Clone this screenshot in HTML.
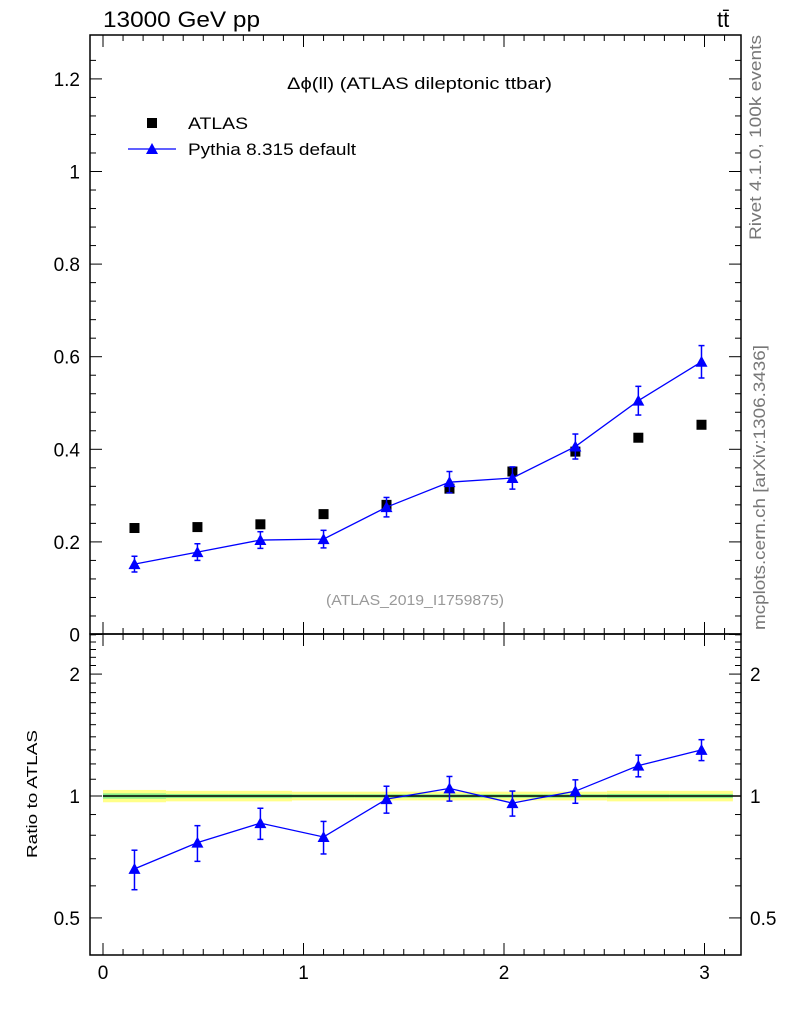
<!DOCTYPE html>
<html><head><meta charset="utf-8">
<style>
body{margin:0;background:#fff;}
svg text{font-family:"Liberation Sans",Arial,sans-serif;}
</style></head>
<body>
<svg id="c" width="786" height="1024" xmlns="http://www.w3.org/2000/svg">
<text x="103" y="27" font-size="22" textLength="157" lengthAdjust="spacingAndGlyphs">13000 GeV pp</text>
<text x="717" y="27" font-size="22">tt̄</text>
<text x="287" y="89" font-size="17" textLength="265" lengthAdjust="spacingAndGlyphs">Δϕ(ll) (ATLAS dileptonic ttbar)</text>
<text x="326" y="605" font-size="15" fill="#999" textLength="178" lengthAdjust="spacingAndGlyphs">(ATLAS_2019_I1759875)</text>
<text transform="translate(761,240) rotate(-90)" font-size="17" fill="#777" textLength="205" lengthAdjust="spacingAndGlyphs">Rivet 4.1.0,  100k events</text>
<text transform="translate(765,630) rotate(-90)" font-size="17" fill="#777" textLength="285" lengthAdjust="spacingAndGlyphs">mcplots.cern.ch [arXiv:1306.3436]</text>
<text transform="translate(37,794) rotate(-90)" font-size="15" text-anchor="middle" textLength="128" lengthAdjust="spacingAndGlyphs">Ratio to ATLAS</text>
<g>
<rect x="147" y="118" width="10" height="10" fill="#000"/>
<text x="188" y="129" font-size="17" textLength="60" lengthAdjust="spacingAndGlyphs">ATLAS</text>
<line x1="128" y1="149" x2="176" y2="149" stroke="#00f" stroke-width="1.3"/>
<polygon points="152,143 158,154 146,154" fill="#00f"/>
<text x="188" y="155" font-size="17" textLength="168" lengthAdjust="spacingAndGlyphs">Pythia 8.315 default</text>
</g>
<g id="g"></g>
</svg>
<script>
const xCenters=[0.157,0.471,0.785,1.100,1.414,1.728,2.042,2.356,2.670,2.985];
const atlasVals=[0.230,0.232,0.238,0.260,0.280,0.315,0.352,0.395,0.425,0.453];
const pythiaVals=[0.152,0.178,0.204,0.206,0.275,0.329,0.338,0.406,0.505,0.589];
const pythiaErr=[0.017,0.018,0.018,0.019,0.021,0.023,0.024,0.027,0.031,0.035];
const bandYellow=[0.035,0.03,0.03,0.025,0.025,0.025,0.025,0.025,0.03,0.03];
const bandGreen=[0.015,0.012,0.012,0.01,0.01,0.01,0.01,0.01,0.012,0.012];
const mainTicks=[0,0.2,0.4,0.6,0.8,1,1.2];
const mainTickLabels=["0","0.2","0.4","0.6","0.8","1","1.2"];
const ratioTicks=[0.5,1,2];
const ratioTickLabels=["0.5","1","2"];
const xTicks=[0,1,2,3];
const xTickLabels=["0","1","2","3"];

const L=90,R=741,T=35,M=634,B=955;
const X=v=>103+v*200.5;
const Y=v=>634.5-v*463;
const RY=v=>796-Math.log10(v)*405;
const g=document.getElementById('g');
const NS='http://www.w3.org/2000/svg';
function mk(t,a,p){const e=document.createElementNS(NS,t);for(const k in a)e.setAttribute(k,a[k]);(p||g).appendChild(e);return e;}

const binW=Math.PI/10;
xCenters.forEach((c,i)=>{
  const x0=X(i*binW),x1=X((i+1)*binW);
  const r1=mk('rect',{x:x0,y:RY(1+bandYellow[i]),width:x1-x0,height:RY(1-bandYellow[i])-RY(1+bandYellow[i]),fill:'#ffff88'});
  
  
  const r2=mk('rect',{x:x0,y:RY(1+bandGreen[i]),width:x1-x0,height:RY(1-bandGreen[i])-RY(1+bandGreen[i]),fill:'#88ee88'});
  
  
});
mk('line',{x1:X(0),x2:R,y1:RY(1),y2:RY(1),stroke:'#000','stroke-width':1.5});

const f1=mk('rect',{x:L,y:T,width:R-L,height:M-T,fill:'none',stroke:'#000','stroke-width':1.5});


const f2=mk('rect',{x:L,y:M,width:R-L,height:B-M,fill:'none',stroke:'#000','stroke-width':1.5});



for(let v=0;v<=1.28;v+=0.04){
  const maj=Math.abs(v/0.2-Math.round(v/0.2))<1e-6,len=maj?12:6,y=Y(v);
  mk('line',{x1:L,x2:L+len,y1:y,y2:y,stroke:'#000'});
  mk('line',{x1:R,x2:R-len,y1:y,y2:y,stroke:'#000'});
}
mainTicks.forEach((v,i)=>{
  const t=mk('text',{x:80,y:Y(v)+7,'font-size':19,'text-anchor':'end'});
  t.textContent=mainTickLabels[i];
  
  
});
for(let k=5;k<=25;k++){
  const v=k/10,maj=(k===5||k===10||k===20),len=maj?12:6,y=RY(v);
  if(y<M)continue;
  mk('line',{x1:L,x2:L+len,y1:y,y2:y,stroke:'#000'});
  mk('line',{x1:R,x2:R-len,y1:y,y2:y,stroke:'#000'});
}
ratioTicks.forEach((v,i)=>{
  [80,750].forEach((x,j)=>{
    const t=mk('text',{x:x,y:RY(v)+7,'font-size':19,'text-anchor':j?'start':'end'});
    t.textContent=ratioTickLabels[i];
    
    
  });
});
for(let k=0;k<=31;k++){
  const v=k/10,maj=k%10===0,len=maj?12:6,x=X(v);
  [[T,1],[M,-1],[M,1],[B,-1]].forEach(([y,d])=>mk('line',{x1:x,x2:x,y1:y,y2:y+d*len,stroke:'#000'}));
}
xTicks.forEach((v,i)=>{
  const t=mk('text',{x:X(v),y:979,'font-size':19,'text-anchor':'middle'});
  t.textContent=xTickLabels[i];
  
  
});

xCenters.forEach((c,i)=>{
  const r=mk('rect',{x:X(c)-5,y:Y(atlasVals[i])-5,width:10,height:10,fill:'#000'});
  
  
});
function series(yf,vals,errs,name){
  const pl=mk('polyline',{points:xCenters.map((c,i)=>X(c)+','+yf(vals[i])).join(' '),fill:'none',stroke:'#00f','stroke-width':1.3});
  
  
  xCenters.forEach((c,i)=>{
    const x=X(c),y=yf(vals[i]),y1=yf(vals[i]+errs[i]),y2=yf(vals[i]-errs[i]);
    mk('line',{x1:x,x2:x,y1:y1,y2:y2,stroke:'#00f','stroke-width':1.5});
    mk('line',{x1:x-3,x2:x+3,y1:y1,y2:y1,stroke:'#00f','stroke-width':1.5});
    mk('line',{x1:x-3,x2:x+3,y1:y2,y2:y2,stroke:'#00f','stroke-width':1.5});
    const p=mk('polygon',{points:`${x},${y-6} ${x+6},${y+5} ${x-6},${y+5}`,fill:'#00f'});
    
    
  });
}
series(Y,pythiaVals,pythiaErr,'pythia');
const ratioVals=pythiaVals.map((v,i)=>v/atlasVals[i]);
const ratioErr=pythiaErr.map((e,i)=>e/atlasVals[i]);
series(RY,ratioVals,ratioErr,'ratio');
</script>
</body></html>
